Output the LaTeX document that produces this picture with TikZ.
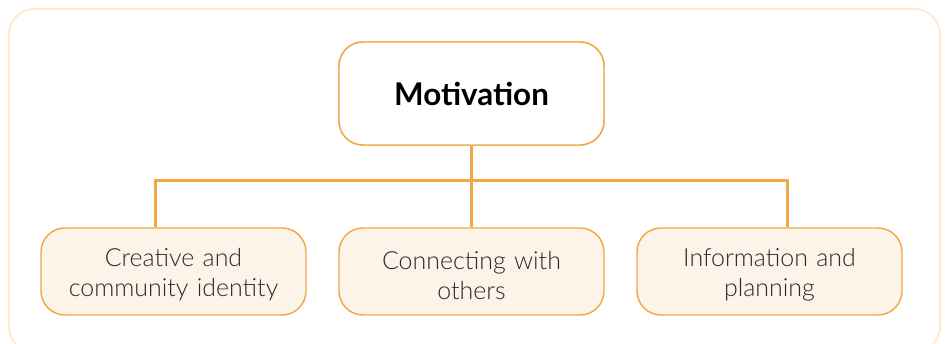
\documentclass[tikz,border=0pt]{standalone}
\usepackage{fontspec}
\setmainfont{Lato}
\IfFontExistsTF{Lato Light}{\newfontfamily\lightfont{Lato Light}}{\newfontfamily\lightfont{Lato}}
\definecolor{frameorange}{HTML}{FDEBD5}
\definecolor{boxorange}{HTML}{F0A848}
\definecolor{boxfill}{HTML}{FCF4E9}
\definecolor{textgray}{HTML}{2A2A2A}
\begin{document}
\begin{tikzpicture}[
x=0.75pt, y=-0.75pt,
root/.style={rectangle, rounded corners=18pt, draw=boxorange, line width=1.1pt, fill=white, minimum width=198.75pt, minimum height=77.25pt, font=\bfseries\fontsize{23.5}{28}\selectfont},
reason/.style={rectangle, rounded corners=18pt, draw=boxorange, line width=1.1pt, fill=boxfill, minimum width=198.75pt, minimum height=65.25pt, text width=180pt, align=center, text=textgray, font=\lightfont\fontsize{18.7}{22.5}\selectfont, execute at begin node={\rule{0pt}{19pt}}},
bus/.style={edge from parent path={(\tikzparentnode.south) -- ++(0,-26.25pt) -| ([xshift=#1]\tikzchildnode.north)}},
level 1/.style={sibling distance=223.5pt, level distance=133.5pt},
edge from parent/.style={draw=boxorange, line width=2.2pt},
bus=0pt,
]
\useasboundingbox (0,0) rectangle (949,343);
\clip (0,0) rectangle (949,343);
\draw[frameorange, line width=1.6pt, rounded corners=19pt] (9,9) rectangle (940,352);
\node[root] (motiv) at (471.5,93.5) {Motivation}
    child[bus=-13.5pt] { node (creative) [reason] {Creative and\\community identity} }
    child { node (connect) [reason] {Connecting with\\others} }
    child[bus=13.5pt] { node (info) [reason] {Information and\\planning} };
% redraw boxes over the connectors
\node[root] at (motiv) {Motivation};
\end{tikzpicture}
\end{document}
